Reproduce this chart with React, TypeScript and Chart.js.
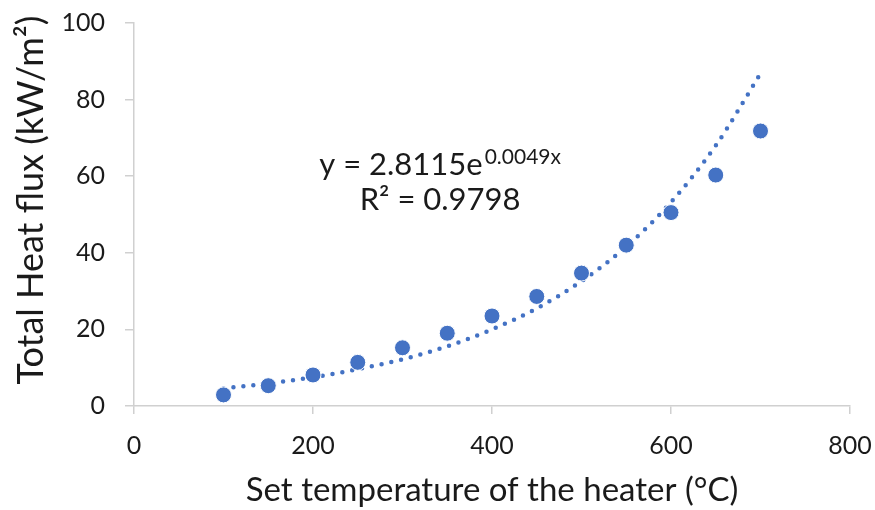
import React, { useEffect, useRef } from "react";
import { Chart, registerables } from "chart.js";

Chart.register(...registerables);

const temperatures = [100, 150, 200, 250, 300, 350, 400, 450, 500, 550, 600, 650, 700];
const heatFlux = [2.9, 5.3, 8.1, 11.4, 15.2, 19.0, 23.5, 28.6, 34.7, 42.0, 50.5, 60.3, 71.8];
const trendValues = [4.6, 5.9, 7.5, 9.6, 12.2, 15.6, 20.0, 25.5, 32.6, 41.6, 53.2, 68.0, 86.8];
const xTicks = [0, 200, 400, 600, 800];
const yTicks = [0, 20, 40, 60, 80, 100];
const equationMain = "y = 2.8115e";
const equationExp = "0.0049x";
const rSquared = "R² = 0.9798";
const yTitle = "Total Heat flux (kW/m²)";
const annotationAt = { x: 342, y: 60.3 };

const FONT = "Lato, 'Open Sans', sans-serif";
const TEXT = "#1a1a1a";
const BLUE = "#4472C4";
const AXIS = "#d0d0d0";

const textPlugin = {
  id: "texts",
  afterDraw(chart: any) {
    const ctx = chart.ctx;
    const xs = chart.scales.x;
    const ys = chart.scales.y;
    const cx = xs.getPixelForValue(annotationAt.x);
    const cy = ys.getPixelForValue(annotationAt.y);
    ctx.save();
    ctx.fillStyle = TEXT;
    ctx.textBaseline = "alphabetic";
    ctx.textAlign = "left";
    ctx.font = `31px ${FONT}`;
    const wMain = ctx.measureText(equationMain).width;
    ctx.font = `21px ${FONT}`;
    const wExp = ctx.measureText(equationExp).width + 2;
    const total = wMain + wExp;
    const left = cx - total / 2;
    ctx.font = `31px ${FONT}`;
    ctx.fillText(equationMain, left, cy);
    ctx.font = `21px ${FONT}`;
    ctx.fillText(equationExp, left + wMain + 2, cy - 11);
    ctx.font = `31px ${FONT}`;
    ctx.textAlign = "center";
    ctx.fillText(rSquared, cx, cy + 35);
    ctx.restore();

    // vertical axis title
    ctx.save();
    ctx.fillStyle = TEXT;
    ctx.font = `36px ${FONT}`;
    ctx.textAlign = "center";
    ctx.textBaseline = "middle";
    ctx.translate(31, 200);
    ctx.rotate(-Math.PI / 2);
    ctx.fillText(yTitle, 0, 0);
    ctx.restore();
  },
};

export default function App() {
  const ref = useRef<HTMLCanvasElement | null>(null);
  useEffect(() => {
    document.body.style.margin = "0";
    const canvas = ref.current!;
    const chart = new Chart(canvas, {
      type: "scatter",
      data: {
        datasets: [
          {
            type: "line",
            label: "Trend",
            data: temperatures.map((t, i) => ({ x: t, y: trendValues[i] })),
            borderColor: BLUE,
            borderWidth: 4.5,
            borderDash: [0, 10],
            borderCapStyle: "round",
            pointRadius: 0,
            fill: false,
            cubicInterpolationMode: "monotone",
            order: 2,
          } as any,
          {
            label: "Total heat flux",
            data: temperatures.map((t, i) => ({ x: t, y: heatFlux[i] })),
            backgroundColor: BLUE,
            borderColor: "#ffffff",
            borderWidth: 1,
            pointRadius: 8,
            order: 1,
          },
        ],
      },
      options: {
        animation: false,
        responsive: false,
        maintainAspectRatio: false,
        layout: { padding: { top: 23, right: 25, left: 0, bottom: 0 } },
        plugins: { legend: { display: false }, tooltip: { enabled: false } },
        scales: {
          x: {
            type: "linear",
            min: 0,
            max: 800,
            afterBuildTicks(scale: any) {
              scale.ticks = xTicks.map((v) => ({ value: v }));
            },
            afterFit(scale: any) {
              scale.height = 104;
              scale.paddingLeft = 0;
              scale.paddingRight = 0;
            },
            grid: {
              drawOnChartArea: false,
              drawTicks: true,
              tickLength: 8,
              color: AXIS,
              lineWidth: 1.5,
            },
            border: { color: AXIS, width: 1.5 },
            ticks: { color: TEXT, font: { family: FONT, size: 25 }, padding: 17, maxRotation: 0 },
            title: {
              display: true,
              text: "Set temperature of the heater (°C)",
              color: TEXT,
              font: { family: FONT, size: 33 },
              padding: { top: 0, bottom: 0 },
            },
          },
          y: {
            type: "linear",
            min: 0,
            max: 100,
            afterBuildTicks(scale: any) {
              scale.ticks = yTicks.map((v) => ({ value: v }));
            },
            afterFit(scale: any) {
              scale.width = 134;
              scale.paddingTop = 0;
              scale.paddingBottom = 0;
            },
            grid: {
              drawOnChartArea: false,
              drawTicks: true,
              tickLength: 9,
              color: AXIS,
              lineWidth: 1.5,
            },
            border: { color: AXIS, width: 1.5 },
            ticks: { color: TEXT, font: { family: FONT, size: 25 }, padding: 20 },
            title: { display: false },
          },
        },
      },
      plugins: [textPlugin],
    });
    return () => chart.destroy();
  }, []);
  return (
    <div style={{ width: 875, height: 510, position: "relative" }}>
      <canvas ref={ref} width={875} height={510} style={{ width: 875, height: 510, display: "block" }} />
    </div>
  );
}
